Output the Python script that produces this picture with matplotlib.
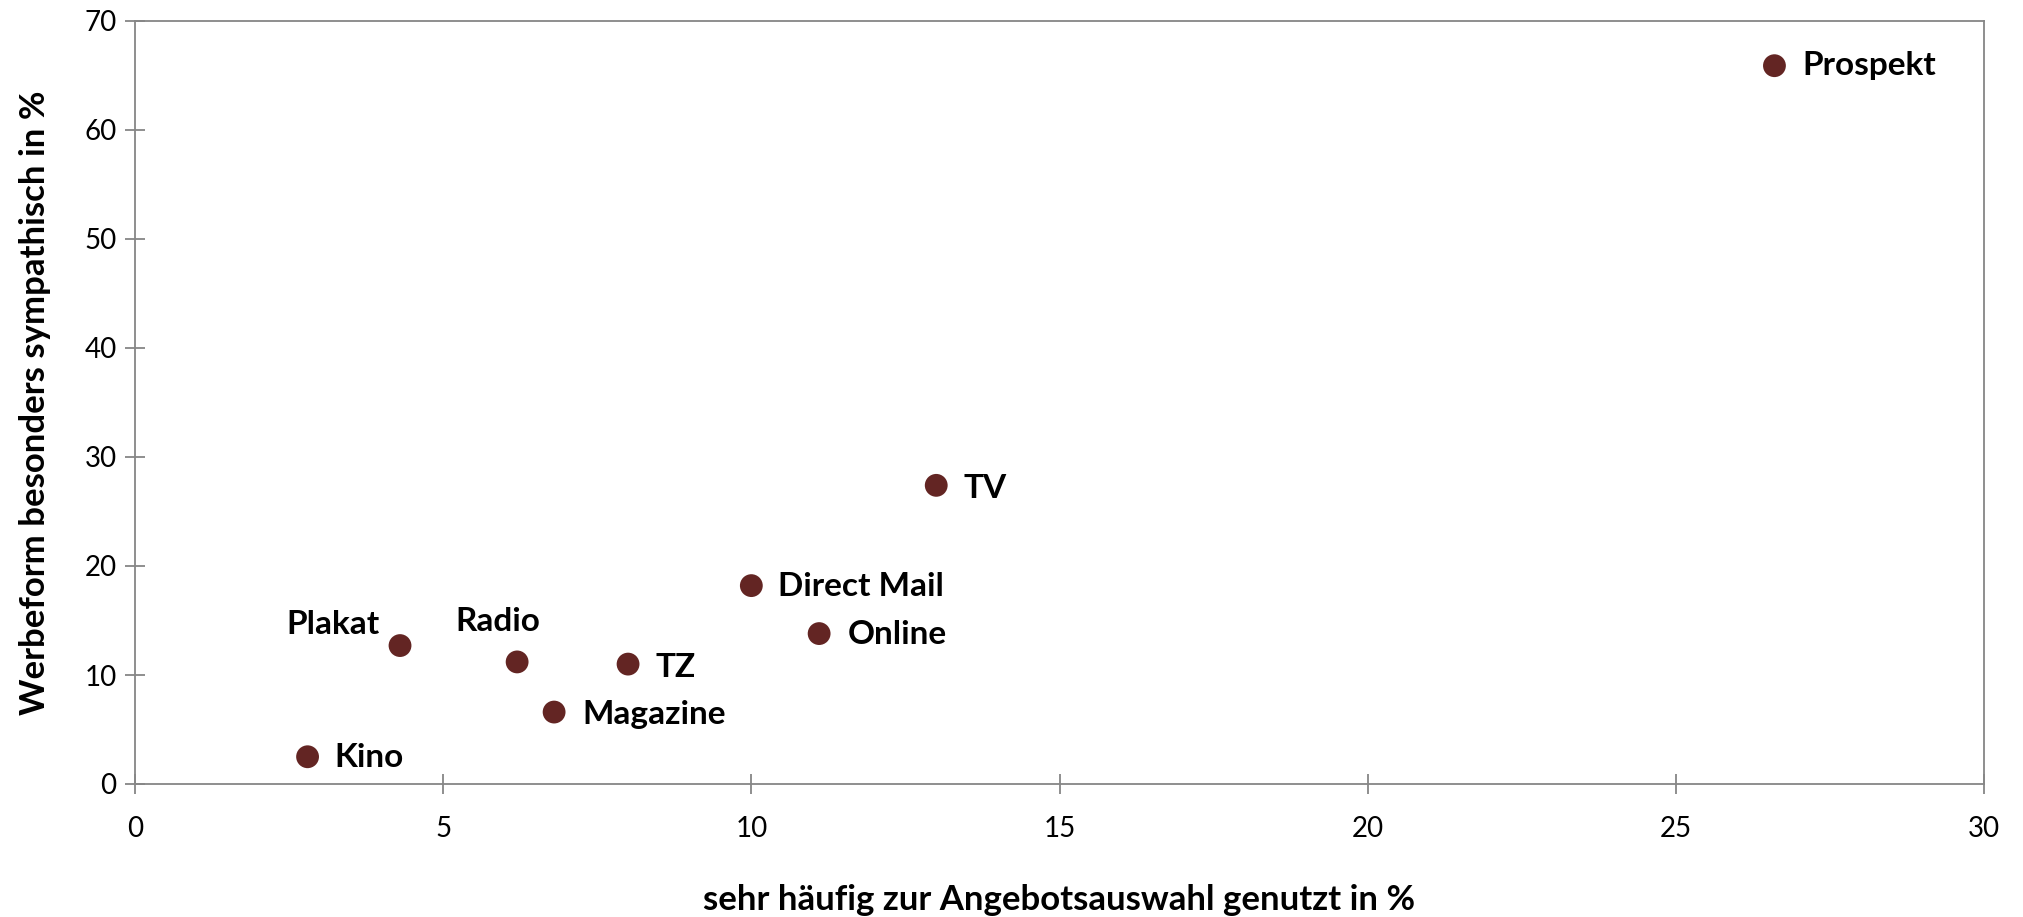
import matplotlib.pyplot as plt

plt.rcParams['font.family'] = ['Lato', 'DejaVu Sans']

# data
medien = ['Prospekt', 'TV', 'Direct Mail', 'Online', 'TZ', 'Radio',
          'Magazine', 'Plakat', 'Kino']
genutzt = [26.6, 13.0, 10.0, 11.1, 8.0, 6.2, 6.8, 4.3, 2.8]
sympathisch = [65.9, 27.4, 18.2, 13.8, 11.0, 11.2, 6.6, 12.7, 2.5]

# label placement (offset in pixels, horizontal alignment)
label_pos = {
    'Prospekt': (28, 0, 'left'),
    'TV': (27, -3, 'left'),
    'Direct Mail': (27, -1, 'left'),
    'Online': (29, -1, 'left'),
    'TZ': (27, -3, 'left'),
    'Radio': (-19, 40, 'center'),
    'Magazine': (28, -2, 'left'),
    'Plakat': (-20, 21, 'right'),
    'Kino': (27, -1, 'left'),
}

dot_color = '#632523'
axis_color = '#868686'

fig = plt.figure(figsize=(20.24, 9.17), dpi=100)
ax = fig.add_axes([135 / 2024, 1 - 784 / 917, (1984 - 135) / 2024, (784 - 21) / 917])

ax.scatter(genutzt, sympathisch, s=270, color=dot_color, zorder=3,
           edgecolors='none', clip_on=False)

for name, x, y in zip(medien, genutzt, sympathisch):
    dx, dy, ha = label_pos[name]
    ax.annotate(name, (x, y), xytext=(dx, dy), textcoords='offset pixels',
                ha=ha, va='center', fontsize=24, fontweight='bold',
                color='black')

ax.set_xlim(0, 30)
ax.set_ylim(0, 70)
ax.set_xticks(range(0, 31, 5))
ax.set_yticks(range(0, 71, 10))

for side in ['left', 'right', 'top', 'bottom']:
    ax.spines[side].set_color(axis_color)
    ax.spines[side].set_linewidth(1.3)

ax.tick_params(direction='inout', length=14.4, width=1.3, color=axis_color,
               labelsize=20, labelcolor='black')
ax.tick_params(axis='x', pad=16)
ax.tick_params(axis='y', pad=6)

ax.set_xlabel('sehr häufig zur Angebotsauswahl genutzt in %',
              fontsize=25, fontweight='bold', labelpad=30)
ax.set_ylabel('Werbeform besonders sympathisch in %',
              fontsize=25, fontweight='bold', labelpad=24)

fig.savefig('out.png', dpi=100, facecolor='white')
